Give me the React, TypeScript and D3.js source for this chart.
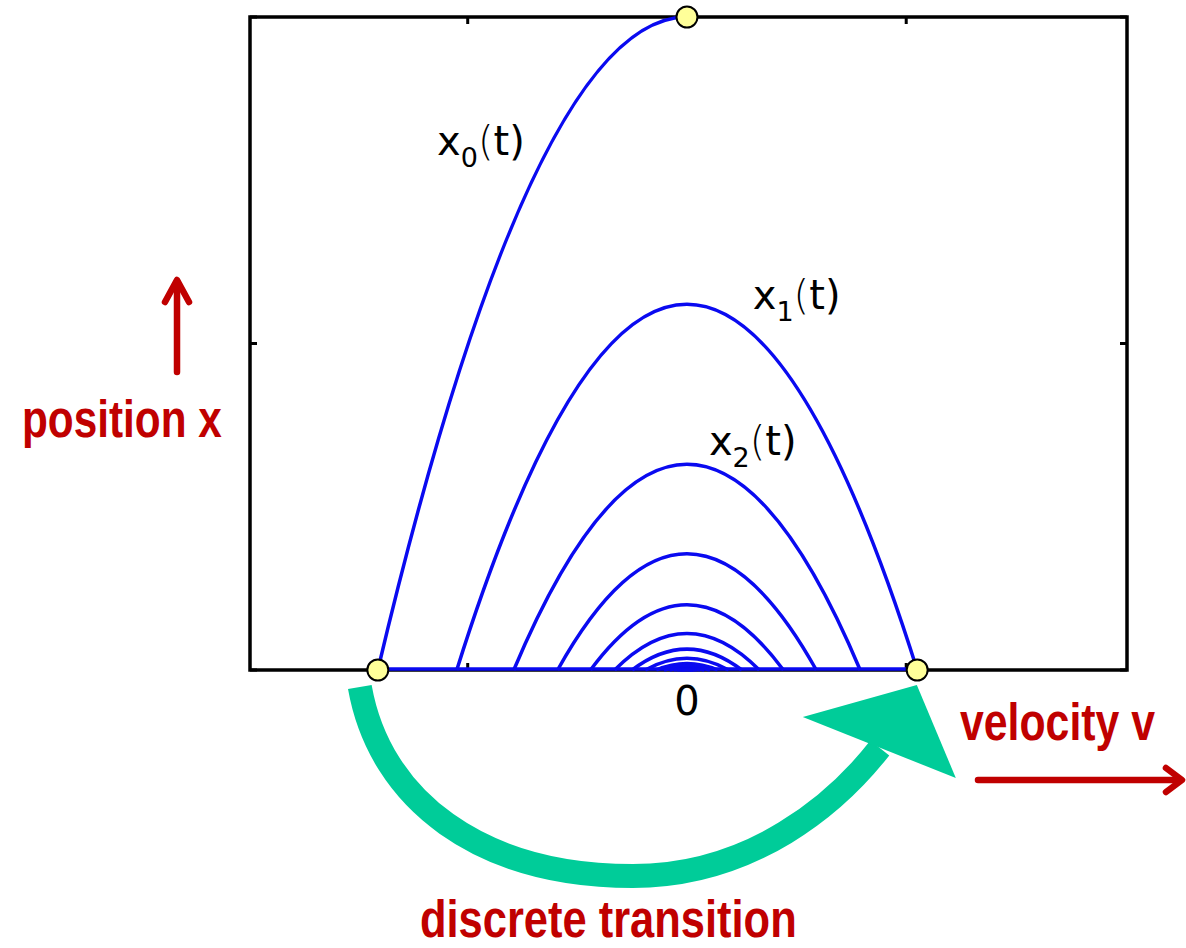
import React from 'react';
import * as d3 from 'd3';

// bounce speeds |v| at each impact (v axis units)
const impactSpeeds = [14.1, 10.5, 7.9, 5.9, 4.4, 3.3, 2.5, 1.9, 1.4, 1.05, 0.8, 0.6, 0.45, 0.34, 0.25];
// apex height of each flight arc (x axis units)
const apexHeights = [10, 5.6, 3.15, 1.78, 1.0, 0.56, 0.32, 0.18, 0.1, 0.056, 0.032, 0.018, 0.01, 0.006, 0.003];

const xTicks = [-10, 0, 10];
const yTicks = [0, 5, 10];
const xTickLabels = ['0'];

// curve labels: [v, x, index]
const curveLabels: [number, number, string][] = [
  [-11.4, 7.89, '0'],
  [3.0, 5.53, '1'],
  [1.0, 3.29, '2'],
];

// red captions: [text, x, baseline, horizontal squeeze]
const captions: [string, number, number, number][] = [
  ['position x', 22, 437, 0.814],
  ['velocity v', 960, 740, 0.823],
  ['discrete transition', 420, 937, 0.836],
];

const W = 1186;
const H = 948;
const box = { left: 250, right: 1127, top: 17, bottom: 670 };
const RED = '#c00000';
const GREEN = '#00cc99';
const BLUE = '#0a0af0';

const xScale = d3.scaleLinear().domain([-19.93, 20.07]).range([box.left, box.right]);
const yScale = d3.scaleLinear().domain([0, 10]).range([box.bottom, box.top]);

function arcPath(i: number) {
  const v = impactSpeeds[i];
  const h = apexHeights[i];
  const p = d3.path();
  if (i === 0) {
    // released from rest at the top, falls to the first impact
    p.moveTo(xScale(0), yScale(h));
    p.quadraticCurveTo(xScale(-v / 2), yScale(h), xScale(-v), yScale(0));
  } else {
    p.moveTo(xScale(v), yScale(0));
    p.quadraticCurveTo(xScale(0), yScale(2 * h), xScale(-v), yScale(0));
  }
  return p.toString();
}

const App: React.FC = () => {
  const L: [number, number] = [xScale(-impactSpeeds[0]), yScale(0)];
  const at = (dx: number, dy: number): [number, number] => [L[0] + dx, L[1] + dy];

  // transition arrow, drawn relative to the first impact marker
  const body = d3.path();
  body.moveTo(...at(-18, 17));
  body.bezierCurveTo(...at(2, 130), ...at(102, 206), ...at(255, 206));
  body.bezierCurveTo(...at(375, 206), ...at(459, 133), ...at(502, 78));
  const headPts = [at(425, 47), at(539, 15), at(578, 108)].map(p => p.join(',')).join(' ');

  const markers: [number, number][] = [
    [0, apexHeights[0]],
    [-impactSpeeds[0], 0],
    [impactSpeeds[1], 0],
  ];

  const tickLen = 7;

  return (
    <svg width={W} height={H} style={{ position: 'absolute', left: 0, top: 0, background: '#fff' }}>
      {/* axes box */}
      <rect x={box.left} y={box.top} width={box.right - box.left} height={box.bottom - box.top}
        fill="none" stroke="#000" strokeWidth={3.5} />
      {xTicks.map(t => (
        <g key={'xt' + t}>
          <line x1={xScale(t)} x2={xScale(t)} y1={box.bottom} y2={box.bottom - tickLen} stroke="#000" strokeWidth={3} />
          <line x1={xScale(t)} x2={xScale(t)} y1={box.top} y2={box.top + tickLen} stroke="#000" strokeWidth={3} />
        </g>
      ))}
      {yTicks.map(t => (
        <g key={'yt' + t}>
          <line x1={box.left} x2={box.left + tickLen} y1={yScale(t)} y2={yScale(t)} stroke="#000" strokeWidth={3} />
          <line x1={box.right} x2={box.right - tickLen} y1={yScale(t)} y2={yScale(t)} stroke="#000" strokeWidth={3} />
        </g>
      ))}
      {xTickLabels.map(l => (
        <text key={'xl' + l} x={xScale(+l)} y={715} textAnchor="middle" fontFamily="DejaVu Sans" fontSize={40} fill="#000">{l}</text>
      ))}

      {/* ground line where the ball rests */}
      <line x1={xScale(-impactSpeeds[0])} x2={xScale(impactSpeeds[1])} y1={yScale(0) - 1} y2={yScale(0) - 1}
        stroke={BLUE} strokeWidth={3.5} />
      {impactSpeeds.map((_, i) => (
        <path key={'arc' + i} d={arcPath(i)} fill="none" stroke={BLUE} strokeWidth={3.5} />
      ))}

      {curveLabels.map(([v, x, sub]) => (
        <text key={'cl' + sub} x={xScale(v)} y={yScale(x)} fontFamily="DejaVu Sans" fontSize={40} fill="#000">
          x<tspan fontSize={27} dy={12}>{sub}</tspan>
          <tspan dy={-12} fontWeight={300}>(</tspan>t<tspan>)</tspan>
        </text>
      ))}

      {/* discrete transition arrow */}
      <path d={body.toString()} fill="none" stroke={GREEN} strokeWidth={24} />
      <polygon points={headPts} fill={GREEN} />

      {markers.map(([v, x], i) => (
        <circle key={'m' + i} cx={xScale(v)} cy={yScale(x)} r={10.5} fill="#ffff99" stroke="#000" strokeWidth={2} />
      ))}

      {/* axis captions */}
      <g stroke={RED} strokeWidth={6.5} strokeLinecap="round" strokeLinejoin="round" fill="none">
        <line x1={177} y1={372} x2={177} y2={282} />
        <polyline points="165,302 177,280 189,302" />
        <line x1={978} y1={780} x2={1180} y2={780} />
        <polyline points="1166,768 1182,780 1166,792" />
      </g>
      {captions.map(([t, x, y, s]) => (
        <text key={t} transform={`translate(${x},${y}) scale(${s},1)`} fontFamily="Liberation Sans"
          fontWeight="bold" fontSize={52} fill={RED}>{t}</text>
      ))}
    </svg>
  );
};

export default App;
